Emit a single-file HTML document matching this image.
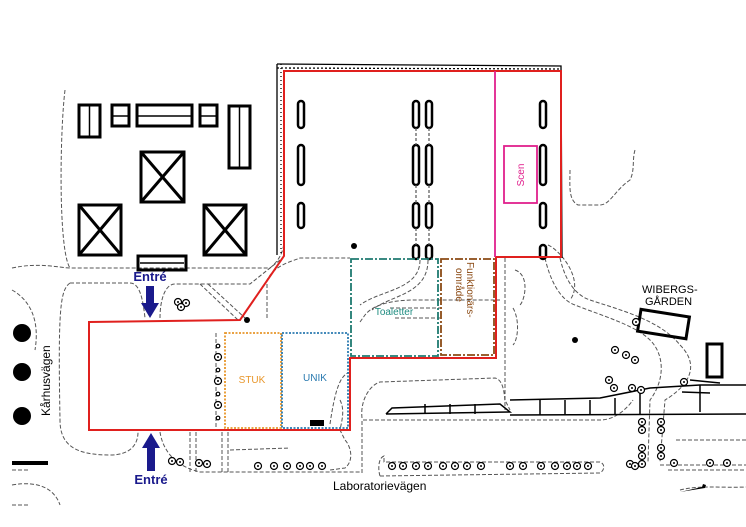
<!DOCTYPE html>
<html><head><meta charset="utf-8"><style>
html,body{margin:0;padding:0;background:#fff}
svg{display:block}
text{font-family:"Liberation Sans",sans-serif}
</style></head><body>
<svg width="746" height="527" viewBox="0 0 746 527" xmlns="http://www.w3.org/2000/svg">
<defs>
<g id="tr"><circle r="3.5" fill="#fff" stroke="#000" stroke-width="1.2"/><circle r="1" fill="#000"/></g>
</defs>
<rect width="746" height="527" fill="#fff"/>
<g fill="none" stroke="#555" stroke-width="1" stroke-dasharray="4,2">
<path d="M12,268 C40,262 60,268 70,268 L270,268 C280,260 284,250 284,240"/>
<path d="M65,90 C60,130 58,250 70,268"/>
<path d="M12,290 C30,300 40,320 35,350"/>
<path d="M70,283 L130,283 C140,283 143,300 145,318"/>
<path d="M70,283 C60,290 58,310 60,420 C60,445 75,455 110,455 C130,455 138,445 138,432"/>
<path d="M160,318 C160,300 165,284 175,284 L250,284 L280,260"/>
<path d="M200,284 L238,320"/>
<path d="M208,284 L245,318"/>
<path d="M160,432 C162,445 170,465 200,472 L300,472 L360,472"/>
<path d="M190,432 L190,472 M196,432 L196,472 M222,432 L222,472 M228,432 L228,472"/>
<path d="M230,450 L290,448"/>
<path d="M267,318 L267,280 C275,265 290,262 300,258 L350,258"/>
<path d="M340,400 C345,410 342,420 340,430 L345,440 C350,445 355,460 345,468 L330,470"/>
<path d="M12,470 L30,470 M12,485 C40,480 55,490 60,505"/>
<path d="M362,473 L362,420 L600,420 C620,420 633,400 633,400"/>
<path d="M380,476 C378,470 378,458 384,456 L384,462 L600,462 C605,464 605,470 600,473 L380,476"/>
<path d="M362,418 C360,400 370,385 380,382 L495,378 C505,380 505,400 505,410"/>
<path d="M505,258 L505,400 L510,410"/>
<path d="M545,258 C550,280 560,300 575,305 C600,315 635,325 650,340 C665,355 665,380 650,400 L648,462"/>
<path d="M560,258 C565,280 575,295 590,300 C620,310 660,320 680,345 C700,365 690,385 665,400 L660,462"/>
<path d="M360,322 L365,315 C375,302 400,300 415,300 L500,300"/>
<path d="M390,308 L440,308 M395,318 L440,318"/>
<path d="M420,260 C420,290 380,290 360,305 M428,260 C428,295 390,295 372,310"/>
<path d="M513,308 C520,320 518,340 513,345 M515,270 C530,275 525,300 520,305"/>
<path d="M570,170 C570,185 568,200 578,205 L600,205 C610,205 615,190 630,180 C635,170 632,160 635,150"/>
<path d="M548,245 C560,250 585,280 570,300"/>
<path d="M330,424 C335,390 340,375 350,372"/>
<path d="M660,465 L746,465 M676,440 L746,440 M668,470 L746,470"/>
<path d="M12,505 L30,505"/>
<path d="M680,490 C700,485 720,488 746,487"/>
<path d="M216,333 L216,430"/>
</g>
<g fill="none" stroke="#000" stroke-width="1.5">
<path d="M386,414 L392,408 L500,404 L510,412 L386,414"/>
<path d="M510,400 L600,398 L650,388 L700,385 L746,385"/>
<path d="M510,415 L746,414"/>
<path d="M425,404 L425,414 M450,404 L450,414 M475,404 L475,414 M540,400 L540,415 M565,400 L565,415 M590,400 L590,415 M615,398 L615,415 M640,392 L640,415 M700,385 L700,412"/>
<path d="M690,380 L720,383 M682,392 L710,393"/>
</g>
<g fill="none" stroke="#000" stroke-width="1.3">
<path d="M277,64 L561,66 L562,258"/>
<path d="M277,64 L277,255"/>
<path d="M281,64 L281,255" stroke-dasharray="1,3"/>
<path d="M277,68 L561,69" stroke-dasharray="2,2"/>
</g>
<g fill="none" stroke="#000" stroke-width="3">
<rect x="79" y="105" width="21" height="32"/><line x1="89.5" y1="105" x2="89.5" y2="137" stroke-width="1.5"/>
<rect x="112" y="105" width="17" height="21"/><line x1="112" y1="116" x2="129" y2="116" stroke-width="1.5"/>
<rect x="137" y="105" width="55" height="21"/><line x1="137" y1="116" x2="192" y2="116" stroke-width="1.5"/>
<rect x="200" y="105" width="17" height="21"/><line x1="200" y1="116" x2="217" y2="116" stroke-width="1.5"/>
<rect x="229" y="106" width="21" height="62"/><line x1="239.5" y1="106" x2="239.5" y2="168" stroke-width="1.5"/>
<rect x="141" y="152" width="43" height="50"/><path d="M141,152 L184,202 M184,152 L141,202"/>
<rect x="79" y="205" width="42" height="50"/><path d="M79,205 L121,255 M121,205 L79,255"/>
<rect x="204" y="205" width="42" height="50"/><path d="M204,205 L246,255 M246,205 L204,255"/>
<rect x="138" y="256" width="48" height="14"/><line x1="140" y1="263" x2="184" y2="263" stroke-width="1.5"/>
<rect x="639" y="313" width="49" height="22" transform="rotate(9 663 324)"/>
<rect x="707" y="344" width="15" height="33"/>
</g>
<g fill="none" stroke="#000" stroke-width="2.5">
<rect x="298" y="101" width="6" height="27" rx="3"/><rect x="298" y="145" width="6" height="40" rx="3"/><rect x="298" y="203" width="6" height="25" rx="3"/>
<rect x="413" y="101" width="6" height="27" rx="3"/><rect x="413" y="145" width="6" height="40" rx="3"/><rect x="413" y="203" width="6" height="25" rx="3"/><rect x="413" y="245" width="6" height="14" rx="3"/>
<rect x="426" y="101" width="6" height="27" rx="3"/><rect x="426" y="145" width="6" height="40" rx="3"/><rect x="426" y="203" width="6" height="25" rx="3"/><rect x="426" y="245" width="6" height="14" rx="3"/>
<rect x="540" y="101" width="6" height="27" rx="3"/><rect x="540" y="145" width="6" height="40" rx="3"/><rect x="540" y="203" width="6" height="25" rx="3"/><rect x="540" y="245" width="6" height="14" rx="3"/>
</g>
<g stroke="#555" stroke-width="1.2" stroke-dasharray="3,2"><path d="M416,128 L416,145 M416,185 L416,203 M416,228 L416,245 M429,128 L429,145 M429,185 L429,203 M429,228 L429,245"/></g>
<g>
<use href="#tr" x="392" y="466"/><use href="#tr" x="403" y="466"/><use href="#tr" x="416" y="466"/><use href="#tr" x="428" y="466"/><use href="#tr" x="443" y="466"/><use href="#tr" x="455" y="466"/><use href="#tr" x="467" y="466"/><use href="#tr" x="481" y="466"/>
<use href="#tr" x="510" y="466"/><use href="#tr" x="523" y="466"/><use href="#tr" x="541" y="466"/><use href="#tr" x="555" y="466"/><use href="#tr" x="567" y="466"/><use href="#tr" x="577" y="466"/><use href="#tr" x="588" y="466"/>
<use href="#tr" x="172" y="461"/><use href="#tr" x="180" y="462"/><use href="#tr" x="199" y="463"/><use href="#tr" x="207" y="464"/>
<use href="#tr" x="258" y="466"/><use href="#tr" x="274" y="466"/><use href="#tr" x="287" y="466"/><use href="#tr" x="300" y="466"/><use href="#tr" x="310" y="466"/><use href="#tr" x="322" y="466"/>
<use href="#tr" x="218" y="357"/><use href="#tr" x="218" y="381"/><use href="#tr" x="218" y="405"/>
<use href="#tr" x="178" y="302"/><use href="#tr" x="186" y="303"/><use href="#tr" x="181" y="307"/>
<use href="#tr" x="615" y="350"/><use href="#tr" x="626" y="355"/><use href="#tr" x="635" y="360"/><use href="#tr" x="609" y="380"/><use href="#tr" x="614" y="388"/><use href="#tr" x="632" y="388"/><use href="#tr" x="641" y="390"/><use href="#tr" x="684" y="382"/><use href="#tr" x="636" y="322"/>
<use href="#tr" x="642" y="422"/><use href="#tr" x="642" y="430"/><use href="#tr" x="642" y="448"/><use href="#tr" x="642" y="456"/><use href="#tr" x="642" y="464"/>
<use href="#tr" x="661" y="422"/><use href="#tr" x="661" y="430"/><use href="#tr" x="661" y="448"/><use href="#tr" x="661" y="456"/>
<use href="#tr" x="630" y="464"/><use href="#tr" x="635" y="466"/><use href="#tr" x="674" y="463"/><use href="#tr" x="710" y="463"/><use href="#tr" x="727" y="463"/>
</g>
<g fill="#fff" stroke="#000" stroke-width="1.2">
<circle cx="218" cy="346" r="1.8"/><circle cx="218" cy="370" r="1.8"/><circle cx="218" cy="394" r="1.8"/><circle cx="218" cy="418" r="1.8"/>
</g>
<g fill="#000">
<circle cx="247" cy="320" r="3"/><circle cx="354" cy="246" r="3"/><circle cx="575" cy="340" r="3"/>
<circle cx="22" cy="333" r="9"/><circle cx="22" cy="372" r="9"/><circle cx="22" cy="416" r="9"/>
<rect x="12" y="461" width="36" height="4"/>
<rect x="310" y="420" width="14" height="6"/>
<path d="M680,492 L702,487 L703,484 L706,485 L705,488 Z"/>
</g>
<polygon points="89,322 240,320 284,256 284,71 561,71 561,257 496,257 496,358 350,358 350,430 89,430" fill="none" stroke="#e0201e" stroke-width="2"/>
<line x1="495" y1="71" x2="495" y2="257" stroke="#e0208c" stroke-width="1.8"/>
<rect x="504" y="146" width="33" height="57" fill="none" stroke="#e0208c" stroke-width="1.8"/>
<text transform="translate(524,175) rotate(-90)" font-size="10" fill="#e0208c" text-anchor="middle">Scen</text>
<rect x="351" y="259" width="87" height="97" fill="none" stroke="#1e7a70" stroke-width="1.8" stroke-dasharray="8,2,2,2"/>
<text x="394" y="315" font-size="10" fill="#1e8c80" text-anchor="middle">Toaletter</text>
<rect x="441" y="259" width="53" height="96" fill="none" stroke="#8b4a14" stroke-width="1.8" stroke-dasharray="8,2,2,2"/>
<text transform="translate(467,262) rotate(90)" font-size="10" fill="#8b4a14">Funktionärs-</text>
<text transform="translate(456,268) rotate(90)" font-size="10" fill="#8b4a14">område</text>
<rect x="225" y="333" width="56" height="95" fill="none" stroke="#e8962a" stroke-width="1.8" stroke-dasharray="2,1.5"/>
<text x="252" y="383" font-size="10" fill="#e8962a" text-anchor="middle">STUK</text>
<rect x="282" y="333" width="66" height="95" fill="none" stroke="#2a7ab0" stroke-width="1.8" stroke-dasharray="2,1.5"/>
<text x="315" y="381" font-size="10" fill="#2a7ab0" text-anchor="middle">UNIK</text>
<g fill="#1a1a8c">
<text x="150" y="281" font-size="13" font-weight="bold" text-anchor="middle">Entré</text>
<path d="M146,286 L154,286 L154,303 L159,303 L150,318 L141,303 L146,303 Z"/>
<text x="151" y="484" font-size="13" font-weight="bold" text-anchor="middle">Entré</text>
<path d="M147,471 L155,471 L155,448 L160,448 L151,433 L142,448 L147,448 Z"/>
</g>
<text x="333" y="490" font-size="12" fill="#000">Laboratorievägen</text>
<text transform="translate(50,416) rotate(-90)" font-size="12" fill="#000">Kårhusvägen</text>
<text x="642" y="293" font-size="11" fill="#000">WIBERGS-</text>
<text x="645" y="305" font-size="11" fill="#000">GÅRDEN</text>
</svg>
</body></html>
